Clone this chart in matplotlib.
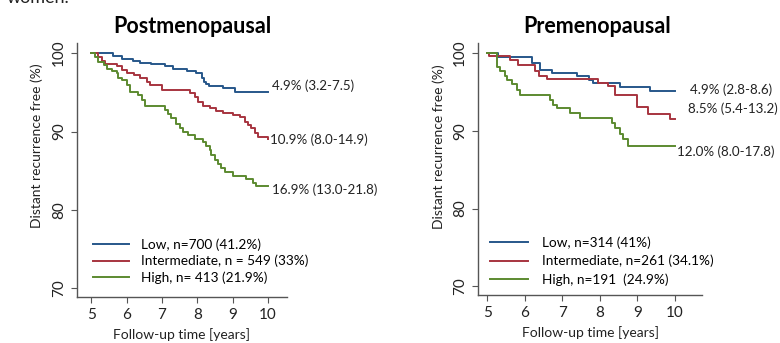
import matplotlib.pyplot as plt

plt.rcParams['font.family'] = ['Lato', 'DejaVu Sans']

# --- Postmenopausal (years, % distant recurrence free) ---
post_low_t = [5, 5.62, 5.86, 6.19, 6.38, 6.7, 7.08, 7.3, 7.7, 7.97, 8.12, 8.2, 8.26, 8.33, 8.72, 9.06, 10]
post_low_s = [100, 99.6, 99.2, 99.0, 98.7, 98.6, 98.3, 98.0, 97.7, 97.4, 96.8, 96.3, 96.1, 95.8, 95.5, 95.1, 95.1]

post_int_t = [5, 5.2, 5.3, 5.4, 5.72, 5.86, 6.0, 6.2, 6.38, 6.57, 6.66, 6.99, 7.79, 7.93, 8.02, 8.16,
              8.35, 8.54, 8.73, 9.0, 9.2, 9.34, 9.43, 9.53, 9.62, 9.72, 10]
post_int_s = [100, 99.5, 99.0, 98.6, 98.3, 97.8, 97.5, 97.2, 96.8, 96.3, 95.9, 95.3, 94.9, 94.4, 93.8, 93.2,
              93.0, 92.6, 92.4, 92.1, 91.8, 91.2, 90.8, 90.4, 89.8, 89.3, 89.1]

post_high_t = [5, 5.1, 5.2, 5.35, 5.44, 5.58, 5.72, 5.77, 5.86, 6.0, 6.1, 6.33, 6.43, 6.52, 7.08, 7.18,
               7.27, 7.41, 7.5, 7.6, 7.74, 7.93, 8.16, 8.26, 8.35, 8.4, 8.49, 8.59, 8.68, 8.77, 9.0,
               9.38, 9.57, 9.66, 10]
post_high_s = [100, 99.5, 98.9, 98.5, 98.0, 97.7, 97.4, 96.8, 96.6, 95.9, 95.1, 94.6, 94.0, 93.2, 92.7, 92.2,
               91.7, 91.0, 90.5, 90.0, 89.6, 89.1, 88.7, 88.2, 87.6, 87.0, 86.4, 85.9, 85.3, 84.9, 84.3,
               83.9, 83.5, 83.1, 83.1]

# --- Premenopausal ---
pre_low_t = [5, 5.3, 6.19, 6.41, 6.72, 7.39, 7.7, 7.83, 8.54, 9.33, 10]
pre_low_s = [100, 99.5, 98.7, 97.8, 97.4, 97.0, 96.5, 96.1, 95.6, 95.1, 95.1]

pre_int_t = [5, 5.05, 5.61, 5.83, 6.28, 6.37, 6.59, 7.96, 8.23, 8.4, 8.98, 9.29, 9.86, 10]
pre_int_s = [100, 99.6, 99.1, 98.4, 97.7, 97.1, 96.7, 96.1, 95.7, 94.6, 93.1, 92.1, 91.5, 91.5]

pre_high_t = [5, 5.25, 5.35, 5.48, 5.52, 5.66, 5.79, 5.88, 6.68, 6.76, 6.85, 7.21, 7.47, 8.32, 8.4,
              8.54, 8.63, 8.76, 10]
pre_high_s = [100, 98.2, 97.7, 97.0, 96.5, 96.0, 95.3, 94.6, 94.0, 93.3, 92.9, 92.3, 91.6, 91.0, 90.3,
              89.6, 88.9, 88.0, 88.0]

post_labels = ['Low, n=700 (41.2%)', 'Intermediate, n = 549 (33%)', 'High, n= 413 (21.9%)']
pre_labels = ['Low, n=314 (41%)', 'Intermediate, n=261 (34.1%)', 'High, n=191  (24.9%)']
post_ends = ['4.9% (3.2-7.5)', '10.9% (8.0-14.9)', '16.9% (13.0-21.8)']
pre_ends = ['4.9% (2.8-8.6)', '8.5% (5.4-13.2)', '12.0% (8.0-17.8)']

colors = ['#27578a', '#a7343f', '#5c8a30']
axis_col = '#555555'
txt_col = '#222222'

fig = plt.figure(figsize=(7.8, 3.43), dpi=100)
ax1 = fig.add_axes([0.0987, 0.134, 0.269, 0.741])
ax2 = fig.add_axes([0.613, 0.14, 0.287, 0.735])


def draw(ax, curves, labels, ends, end_pos, title, xlim, title_x, ylab_xy, leg):
    for (t, s), lab, c in zip(curves, labels, colors):
        ax.step(t, s, where='post', color=c, lw=1.4, label=lab)
    for txt, (x, y) in zip(ends, end_pos):
        ax.text(x, y, txt, fontsize=9.6, va='center', ha='left', color=txt_col)
    ax.set_xlim(*xlim)
    ax.set_ylim(68.9, 101.3)
    ax.set_xticks([5, 6, 7, 8, 9, 10])
    ax.set_yticks([70, 80, 90, 100])
    ax.spines['top'].set_visible(False)
    ax.spines['right'].set_visible(False)
    for sp in ('left', 'bottom'):
        ax.spines[sp].set_color(axis_col)
        ax.spines[sp].set_linewidth(1.0)
    ax.tick_params(colors=axis_col, labelcolor=txt_col, labelsize=11, length=4, direction='out', pad=4)
    plt.setp(ax.get_yticklabels(), rotation=90, va='center')
    ax.set_xlabel('Follow-up time [years]', fontsize=10, color=txt_col, labelpad=4)
    ax.set_ylabel('Distant recurrence free (%)', fontsize=10, color=txt_col)
    ax.yaxis.set_label_coords(*ylab_xy)
    ax.set_title(title, fontsize=15.5, fontweight='bold', pad=7, x=title_x)
    ax.legend(loc='lower left', frameon=False, fontsize=9.8, borderaxespad=0, **leg)


draw(ax1, [(post_low_t, post_low_s), (post_int_t, post_int_s), (post_high_t, post_high_s)],
     post_labels, post_ends, [(10.12, 95.8), (10.05, 89.0), (10.12, 82.6)], 'Postmenopausal',
     (4.6, 10.53), 0.548, (-0.162, 0.594),
     dict(bbox_to_anchor=(0.049, 0.03), handlelength=2.7, handletextpad=0.86, labelspacing=0.3))
draw(ax2, [(pre_low_t, pre_low_s), (pre_int_t, pre_int_s), (pre_high_t, pre_high_s)],
     pre_labels, pre_ends, [(10.4, 95.3), (10.34, 92.9), (10.06, 87.3)], 'Premenopausal',
     (4.76, 10.72), 0.53, (-0.147, 0.587),
     dict(bbox_to_anchor=(0.03, 0.014), handlelength=2.8, handletextpad=1.0, labelspacing=0.45))

# partially cut-off caption text at the very top
fig.text(0.008, 0.992, 'women.', fontsize=13, va='baseline', ha='left', color=txt_col)

fig.savefig('out.png', dpi=100)
